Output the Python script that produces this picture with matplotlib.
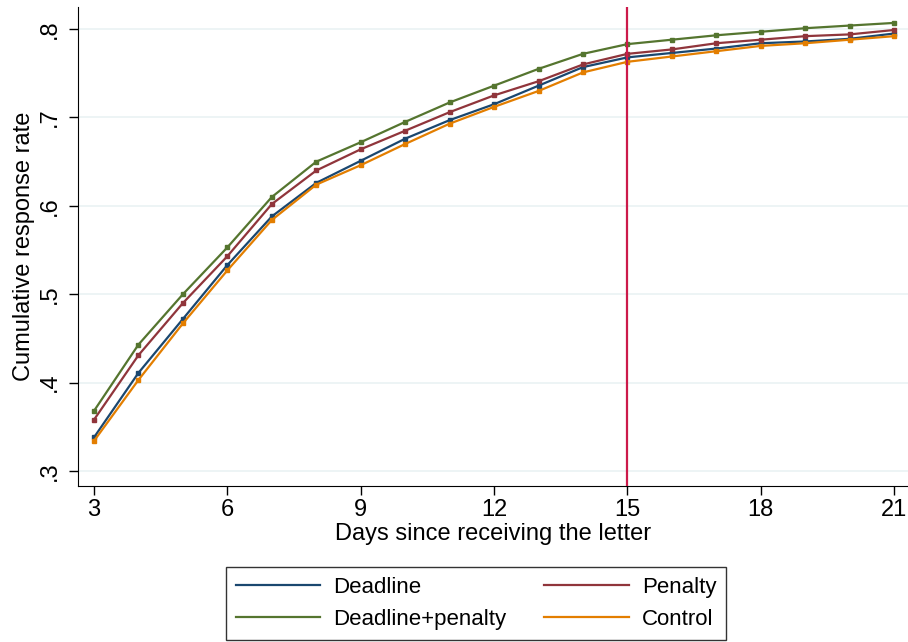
import matplotlib.pyplot as plt
from matplotlib.lines import Line2D

plt.rcParams['font.family'] = ['Liberation Sans', 'DejaVu Sans']

# ---------- Dados ----------
dias = list(range(3, 22))
deadline = [0.338, 0.411, 0.472, 0.533, 0.588, 0.626, 0.651, 0.676, 0.697, 0.715,
            0.736, 0.757, 0.768, 0.773, 0.778, 0.784, 0.786, 0.789, 0.795]
penalty = [0.358, 0.431, 0.490, 0.543, 0.602, 0.640, 0.664, 0.685, 0.706, 0.725,
           0.741, 0.760, 0.772, 0.777, 0.784, 0.788, 0.792, 0.794, 0.799]
deadline_penalty = [0.368, 0.443, 0.500, 0.553, 0.610, 0.650, 0.672, 0.695, 0.717, 0.736,
                    0.755, 0.772, 0.783, 0.788, 0.793, 0.797, 0.801, 0.804, 0.807]
control = [0.334, 0.403, 0.467, 0.527, 0.584, 0.624, 0.646, 0.670, 0.693, 0.712,
           0.730, 0.751, 0.763, 0.769, 0.775, 0.781, 0.784, 0.788, 0.792]
dia_corte = 15

series = [("Deadline", deadline, "#1a476f"),
          ("Penalty", penalty, "#90353b"),
          ("Deadline+penalty", deadline_penalty, "#55752f"),
          ("Control", control, "#e37e00")]

fig = plt.figure(figsize=(9.08, 6.42), dpi=100)
ax = fig.add_axes([78/908, 156/642, 830/908, 479/642])

for nome, valores, cor in series:
    ax.plot(dias, valores, color=cor, lw=1.6, marker='s', markersize=2.5, zorder=3)

ax.axvline(dia_corte, color='#cc1a4a', lw=1.6, zorder=4)

ax.set_xlim(2.64, 21.31)
ax.set_ylim(0.283, 0.825)
ax.set_xticks([3, 6, 9, 12, 15, 18, 21])
ax.set_yticks([0.3, 0.4, 0.5, 0.6, 0.7, 0.8])
ax.set_yticklabels(['.3', '.4', '.5', '.6', '.7', '.8'], rotation=90, va='center')
ax.tick_params(labelsize=17, length=6.5, width=1, color='black')
ax.tick_params(axis='x', pad=3)
ax.tick_params(axis='y', pad=5.5)
ax.grid(axis='y', color='#eaf2f3', lw=1.2)
ax.set_axisbelow(True)
for lado in ['top', 'right']:
    ax.spines[lado].set_visible(False)
ax.set_xlabel("Days since receiving the letter", fontsize=17, labelpad=1)
ax.set_ylabel("Cumulative response rate", fontsize=17, labelpad=3)

# ---------- Legenda ----------
handles = {nome: Line2D([], [], color=cor, lw=1.6) for nome, _, cor in series}
ordem = ["Deadline", "Deadline+penalty", "Penalty", "Control"]
fig.legend([handles[n] for n in ordem], ordem, ncol=2, loc='lower center',
           bbox_to_anchor=(476/908, 2/642), fontsize=16, frameon=True, fancybox=False,
           edgecolor='black', handlelength=3.8, columnspacing=1.7, borderpad=0.45,
           labelspacing=0.5, handletextpad=0.6, borderaxespad=0)

fig.savefig("out.png", dpi=100)
